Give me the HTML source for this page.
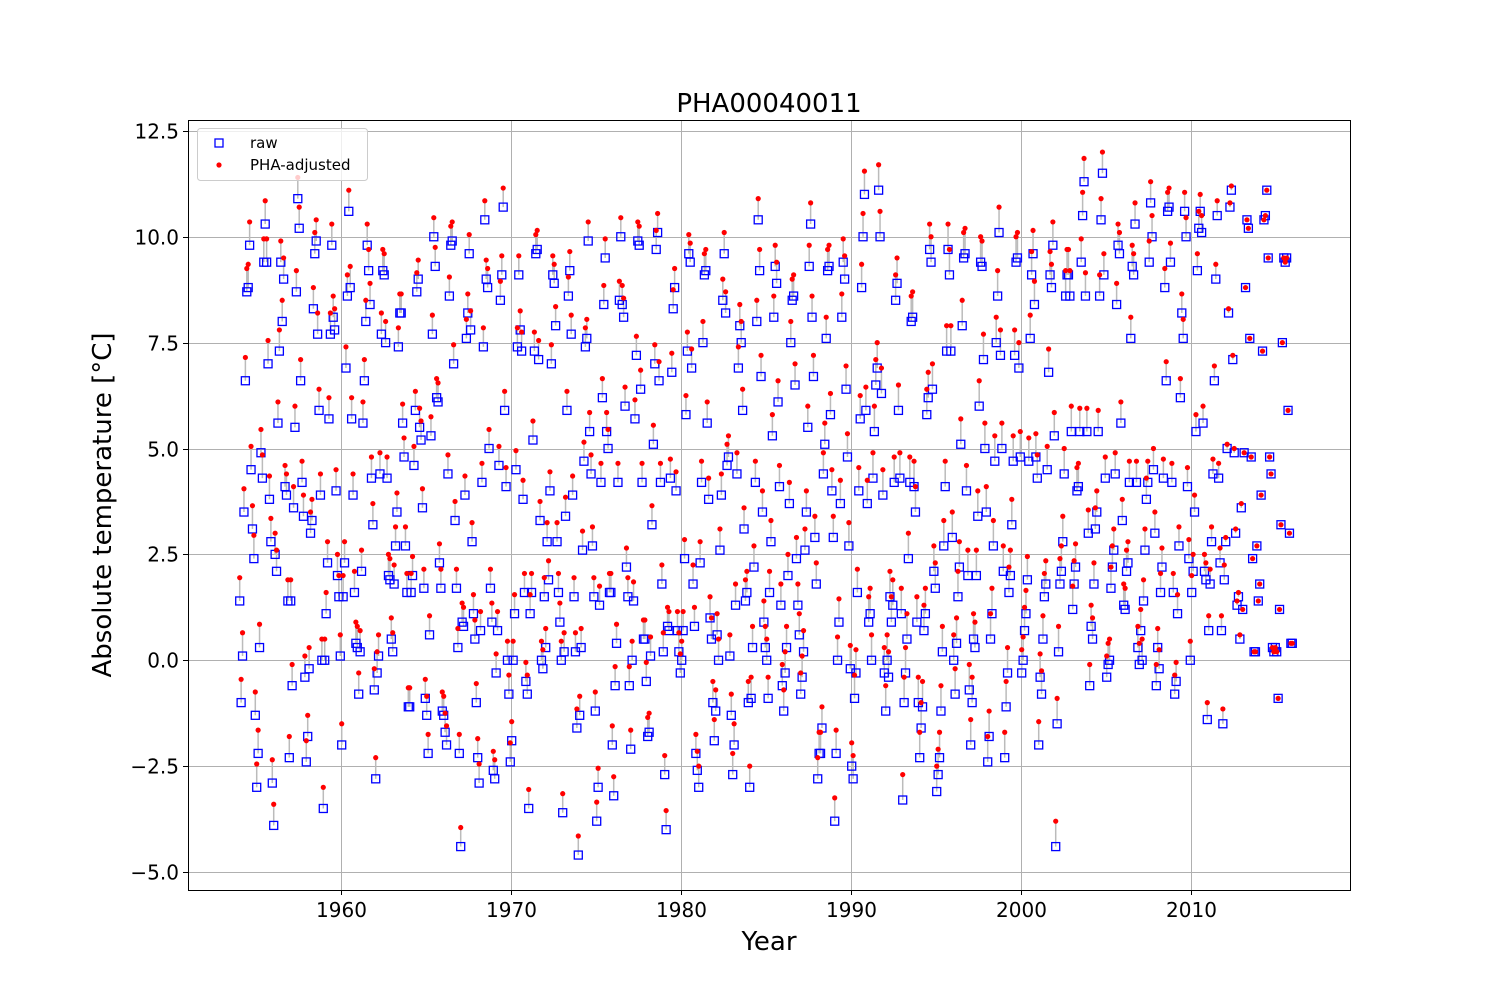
<!DOCTYPE html>
<html><head><meta charset="utf-8"><style>
body{margin:0;background:#fff}
svg{display:block;font-family:"DejaVu Sans","Liberation Sans",sans-serif}
</style></head><body>
<svg id="chart" width="1500" height="1000" viewBox="0 0 1500 1000">
<rect x="0" y="0" width="1500" height="1000" fill="#fff"/>
<g id="grid"></g>
<g id="marks"></g>
<rect x="188.5" y="120.5" width="1162" height="770" fill="none" stroke="#000" stroke-width="1"/>
<g id="ticks"></g>
<text x="769" y="112" font-size="26" text-anchor="middle">PHA00040011</text>
<text x="769" y="950" font-size="26" text-anchor="middle">Year</text>
<text x="0" y="0" font-size="26" text-anchor="middle" transform="translate(111,505) rotate(-90)">Absolute temperature [°C]</text>
<g>
<rect x="197.5" y="128.5" width="170" height="52" rx="3" fill="#fff" fill-opacity="0.8" stroke="#ccc"/>
<rect x="215" y="139" width="8" height="8" fill="none" stroke="#00f" stroke-width="1.3"/>
<text x="250" y="148" font-size="15">raw</text>
<circle cx="219" cy="165" r="2.6" fill="#f00"/>
<text x="250" y="170" font-size="15">PHA-adjusted</text>
</g>
</svg>
<script>
const years = [1954,1955,1956,1957,1958,1959,1960,1961,1962,1963,1964,1965,1966,1967,1968,1969,1970,1971,1972,1973,1974,1975,1976,1977,1978,1979,1980,1981,1982,1983,1984,1985,1986,1987,1988,1989,1990,1991,1992,1993,1994,1995,1996,1997,1998,1999,2000,2001,2002,2003,2004,2005,2006,2007,2008,2009,2010,2011,2012,2013,2014,2015];
const rawValues = [
1.4,-1.0,0.1,3.5,6.6,8.7,8.8,9.8,4.5,3.1,2.4,-1.3,
-3.0,-2.2,0.3,4.9,4.3,9.4,10.3,9.4,7.0,3.8,2.8,-2.9,
-3.9,2.5,2.1,5.6,7.3,9.4,8.0,9.0,4.1,3.9,1.4,-2.3,
1.4,-0.6,3.6,5.5,8.7,10.9,10.2,6.6,4.2,3.4,-0.4,-2.4,
-1.8,-0.2,3.0,3.3,8.3,9.6,9.9,7.7,5.9,3.9,0.0,-3.5,
0.0,1.1,2.3,5.7,7.7,9.8,8.1,7.8,4.0,2.0,1.5,0.1,
-2.0,1.5,2.3,6.9,8.6,10.6,8.8,5.7,3.9,1.6,0.4,0.3,
-0.8,0.2,2.1,5.6,6.6,8.0,9.8,9.2,8.4,4.3,3.2,-0.7,
-2.8,-0.3,0.1,4.4,7.7,9.2,9.1,7.5,4.3,2.0,1.9,0.5,
0.2,1.8,2.7,3.5,7.4,8.2,8.2,5.6,4.8,2.7,1.6,-1.1,
-1.1,1.6,2.0,4.6,5.9,8.7,9.0,5.5,5.2,3.6,1.7,-0.9,
-1.3,-2.2,0.6,5.3,7.7,10.0,9.3,6.2,6.1,2.3,1.7,-1.2,
-1.3,-1.7,-2.0,4.4,8.6,9.8,9.9,7.0,3.3,1.7,0.3,-2.2,
-4.4,0.9,0.8,3.9,7.6,8.2,9.6,7.8,2.8,1.1,0.5,-1.0,
-2.3,-2.9,0.7,4.2,7.4,10.4,9.0,8.8,5.0,1.7,0.9,-2.6,
-2.8,-0.3,0.7,4.6,8.5,9.1,10.7,5.9,4.1,0.0,-0.8,-2.4,
-1.9,0.0,1.1,4.5,7.4,9.1,7.8,7.3,3.8,1.6,-0.5,-0.8,
-3.5,1.1,1.6,5.2,7.3,9.6,9.7,7.1,3.3,0.0,-0.2,1.5,
0.3,2.8,1.9,4.0,7.0,9.1,8.9,7.9,2.8,1.6,0.9,0.0,
-3.6,0.2,3.4,5.9,8.6,9.2,7.7,3.9,1.5,0.2,-1.6,-4.6,
-1.3,0.3,2.6,4.7,7.4,7.6,9.9,5.4,4.4,2.7,1.5,-1.2,
-3.8,-3.0,1.3,4.2,6.2,8.4,9.5,5.4,5.0,1.6,1.6,-2.0,
-3.2,-0.6,0.4,4.2,8.5,10.0,8.4,8.1,6.0,2.2,1.5,-0.6,
-2.1,0.0,1.4,5.7,7.2,9.9,9.8,6.4,4.2,0.5,0.5,-0.5,
-1.8,-1.7,0.1,3.2,5.1,7.0,9.7,10.1,6.6,4.2,1.8,0.2,
-2.7,-4.0,0.8,0.7,4.3,6.8,8.3,8.8,4.0,0.7,0.2,-0.3,
0.0,0.7,2.4,5.8,7.3,9.6,9.4,6.9,1.8,0.8,-2.2,-2.6,
-3.0,2.3,4.2,7.5,9.1,9.2,5.6,3.8,1.0,0.5,-1.0,-1.9,
-1.2,0.6,0.0,2.6,3.9,8.5,9.6,8.2,4.6,4.8,0.1,-1.3,
-2.7,-2.0,1.3,4.4,6.9,7.9,7.5,5.9,3.1,1.4,1.6,-1.0,
-3.0,-0.9,0.3,2.2,4.2,8.0,10.4,9.2,6.7,3.5,0.9,0.3,
0.0,-0.9,1.6,2.8,5.3,8.1,9.3,8.9,6.1,4.1,1.3,-0.6,
-1.2,-0.3,0.3,2.0,3.7,7.5,8.5,8.6,6.5,2.4,1.3,0.6,
-0.8,-0.4,0.2,2.6,3.5,5.5,9.3,10.3,8.1,6.7,2.9,1.8,
-2.8,-2.2,-2.2,-1.6,4.4,5.1,7.6,9.2,9.3,5.8,4.0,2.9,
-3.8,-2.2,0.0,0.9,3.7,8.1,9.4,9.0,6.4,4.8,2.7,-0.2,
-2.5,-2.8,-0.9,-0.3,1.6,4.0,5.7,8.8,10.0,11.0,5.9,3.7,
0.9,1.1,0.0,4.3,5.4,6.5,6.9,11.1,10.0,6.3,3.9,-0.3,
-1.2,0.0,-0.4,1.5,0.9,1.3,4.2,8.5,8.9,5.9,4.3,1.1,
-3.3,-1.0,-0.3,0.5,2.4,4.2,8.0,8.1,4.1,3.5,0.9,-1.0,
-2.3,-1.6,-1.1,0.7,1.1,5.8,6.2,9.7,9.4,6.4,2.1,1.7,
-3.1,-2.7,-2.3,-1.2,0.2,2.7,4.1,7.3,9.7,9.1,7.3,2.9,
0.0,-0.8,0.4,1.5,2.2,5.1,7.9,9.5,9.6,4.0,2.0,-0.7,
-2.0,-1.0,0.5,0.3,2.0,3.4,6.0,9.4,9.3,7.1,5.0,3.5,
-2.4,-1.8,0.5,1.1,2.7,4.7,7.5,8.6,10.1,7.2,5.0,2.1,
-2.3,-1.1,-0.3,1.6,2.0,3.2,4.7,7.2,9.4,9.5,6.9,4.8,
-0.3,0.0,0.7,1.1,1.9,4.7,7.6,9.1,9.6,8.4,4.8,4.3,
-2.0,-0.4,-0.8,0.5,1.5,1.8,4.5,6.8,9.1,8.8,9.8,5.3,
-4.4,-1.5,0.2,1.8,2.1,2.8,4.4,8.6,9.1,9.1,8.6,5.4,
1.2,1.8,2.2,4.0,4.1,5.4,9.4,10.5,11.3,8.6,5.4,3.0,
-0.6,0.8,0.5,1.8,3.1,3.5,5.4,8.6,10.4,11.5,9.1,4.3,
-0.4,-0.1,0.0,1.7,2.2,2.6,4.4,8.4,9.8,9.6,5.6,3.3,
1.3,1.2,2.1,2.3,4.2,7.6,9.3,9.1,10.3,4.2,0.3,-0.1,
0.7,0.0,1.4,2.6,3.8,4.2,9.4,10.8,10.0,4.5,3.0,-0.6,
0.3,-0.2,1.6,2.2,4.3,8.8,6.6,10.6,10.7,9.4,4.2,1.6,
-0.8,-0.5,1.1,2.7,6.2,8.2,7.6,10.6,10.0,4.1,2.4,0.0,
1.6,2.1,3.5,5.4,9.2,10.2,10.6,10.1,5.6,2.1,1.9,-1.4,
0.7,1.8,2.8,4.4,6.6,9.0,10.5,4.3,2.3,0.7,-1.5,1.9,
2.8,5.0,8.2,10.7,11.1,7.1,4.9,3.0,1.3,1.5,0.5,3.6,
1.2,4.9,8.8,10.4,10.2,7.6,4.8,2.4,0.2,0.2,2.7,1.4,
1.8,3.9,7.3,10.4,10.5,11.1,9.5,4.8,4.4,0.3,0.2,0.3,
0.2,-0.9,1.2,3.2,7.5,9.5,9.4,9.5,5.9,3.0,0.4,0.4
];
const adjOffsets = [0.55,0.55,0.5,0.5,0.5,0.5,0.5,0.5,0.5,0.45,0.45,0.45,0.45,0.45,0.45,0.45,0.45,0.45,0.45,0.45,0.45,0.45,0.45,0.45,0.45,0.45,0.45,0.5,0.5,0.5,0.5,0.5,0.5,0.5,0.5,0.55,0.55,0.6,0.6,0.6,0.6,0.6,0.6,0.6,0.6,0.6,0.55,0.55,0.6,0.55,0.5,0.5,0.5,0.5,0.45,0.45,0.4,0.35,0.1,0,0,0];
const xTicks = [1960,1970,1980,1990,2000,2010];
const yTicks = [-5.0,-2.5,0.0,2.5,5.0,7.5,10.0,12.5];

const NS='http://www.w3.org/2000/svg';
const L=188,R=1350,T=120,B=890;
const xMin=1951.0,xMax=2019.353,yMin=-5.425,yMax=12.757;
function xs(v){return L+(v-xMin)/(xMax-xMin)*(R-L);}
function ys(v){return B-(v-yMin)/(yMax-yMin)*(B-T);}
function mk(tag,attrs,parent){const e=document.createElementNS(NS,tag);for(const k in attrs)e.setAttribute(k,attrs[k]);parent.appendChild(e);return e;}
const grid=document.getElementById('grid'),ticks=document.getElementById('ticks'),marks=document.getElementById('marks');
xTicks.forEach(t=>{
  const x=Math.round(xs(t))+0.5;
  const g=mk('line',{x1:x,x2:x,y1:T,y2:B,stroke:'#b0b0b0','stroke-width':1},grid);
  
  
  const tk=mk('line',{x1:x,x2:x,y1:B,y2:B+5,stroke:'#000'},ticks);
  
  
  const tx=mk('text',{x:x,y:B+27,'font-size':20,'text-anchor':'middle'},ticks);
  tx.textContent=String(t);
  
  
});
yTicks.forEach(t=>{
  const y=Math.round(ys(t))+0.5;
  const g=mk('line',{x1:L,x2:R,y1:y,y2:y,stroke:'#b0b0b0','stroke-width':1},grid);
  
  
  const tk=mk('line',{x1:L-5,x2:L,y1:y,y2:y,stroke:'#000'},ticks);
  
  
  const tx=mk('text',{x:L-9,y:y+7,'font-size':20,'text-anchor':'end'},ticks);
  tx.textContent=(t<0?'\u2212':'')+Math.abs(t).toFixed(1);
  
  
});
const lines=mk('g',{},marks),sq=mk('g',{},marks),dots=mk('g',{},marks);
years.forEach((yr,yi)=>{
  for(let m=0;m<12;m++){
    const i=yi*12+m;
    if(i>=rawValues.length)break;
    const t=yr+(m+0.5)/12;
    const raw=rawValues[i];
    const adj=Math.round((raw+adjOffsets[yi])*100)/100;
    const x=xs(t),y1=ys(raw),y2=ys(adj);
    const ln=mk('line',{x1:x,x2:x,y1:y1,y2:y2,stroke:'#bbbbbb','stroke-width':1.5},lines);
    
    
    const r=mk('rect',{x:x-4,y:y1-4,width:8,height:8,fill:'none',stroke:'#0000ff','stroke-width':1.3},sq);
    
    
    const c=mk('circle',{cx:x,cy:y2,r:2.6,fill:'#ff0000'},dots);
    
    
  }
});
</script>
</body></html>
